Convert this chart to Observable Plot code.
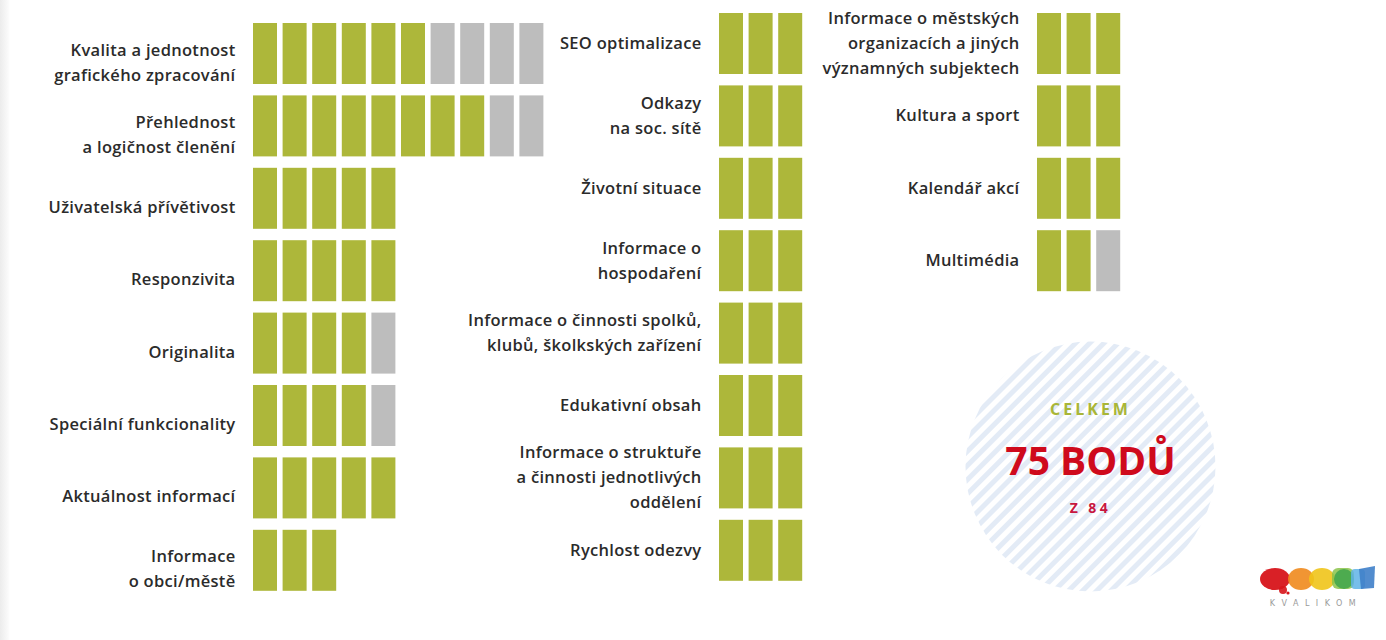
<!DOCTYPE html>
<html lang="cs">
<head>
<meta charset="utf-8">
<script src="https://cdn.jsdelivr.net/npm/d3@7"></script>
<script src="https://cdn.jsdelivr.net/npm/@observablehq/plot@0.6"></script>
<style>
  html, body { margin: 0; padding: 0; background: #ffffff; }
  #wrap { position: relative; width: 1386px; height: 640px; overflow: hidden; background: #fff; }
  #shadow { position: absolute; left: 0; top: 0; width: 10px; height: 640px;
            background: linear-gradient(to right, #ececec, #fafafa 80%, #ffffff); }
  #chart { position: absolute; left: 0; top: 0; }
  #logo { position: absolute; left: 1256px; top: 564px; width: 120px; height: 50px; }
</style>
</head>
<body>
<div id="wrap">
  <div id="chart"></div>
  <div id="shadow"></div>
  <svg id="logo" width="120" height="50" viewBox="0 0 120 50">
    <ellipse cx="19" cy="15" rx="15" ry="11" fill="#d7141a" opacity="0.95"/>
    <circle cx="27" cy="26" r="4" fill="#d7141a" opacity="0.9"/>
    <circle cx="32" cy="29" r="1.6" fill="#d7141a"/>
    <ellipse cx="45" cy="15" rx="13" ry="11" fill="#f08a1d" opacity="0.9"/>
    <ellipse cx="66" cy="15" rx="13" ry="11" fill="#f0c419" opacity="0.9"/>
    <rect x="76" y="4" width="22" height="21" rx="6" fill="#8bc34a" opacity="0.85"/>
    <ellipse cx="88" cy="15" rx="10" ry="10" fill="#3aa24a" opacity="0.8"/>
    <rect x="95" y="5" width="14" height="20" rx="4" fill="#5fb3e6" opacity="0.85"/>
    <path d="M103 5 L119 2 L118 24 L105 25 Z" fill="#3f7fc9" opacity="0.9"/>
    <text x="60" y="42" text-anchor="middle" font-family="'DejaVu Sans', sans-serif" font-size="8" fill="#9a9a9a" letter-spacing="6.5">KVALIKOM</text>
  </svg>
</div>
<script>
// ---------- DATA ----------
const categoriesA = [
  "Kvalita a jednotnost\ngrafického zpracování",
  "Přehlednost\na logičnost členění",
  "Uživatelská přívětivost",
  "Responzivita",
  "Originalita",
  "Speciální funkcionality",
  "Aktuálnost informací",
  "Informace\no obci/městě"
];
const scoresA = [6, 8, 5, 5, 4, 4, 5, 3];
const maxA    = [10, 10, 5, 5, 5, 5, 5, 3];

const categoriesB = [
  "SEO optimalizace",
  "Odkazy\nna soc. sítě",
  "Životní situace",
  "Informace o\nhospodaření",
  "Informace o činnosti spolků,\nklubů, školkských zařízení",
  "Edukativní obsah",
  "Informace o struktuře\na činnosti jednotlivých\noddělení",
  "Rychlost odezvy"
];
const scoresB = [3, 3, 3, 3, 3, 3, 3, 3];
const maxB    = [3, 3, 3, 3, 3, 3, 3, 3];

const categoriesC = [
  "Informace o městských\norganizacích a jiných\nvýznamných subjektech",
  "Kultura a sport",
  "Kalendář akcí",
  "Multimédia"
];
const scoresC = [3, 3, 3, 2];
const maxC    = [3, 3, 3, 3];

const totalLabel = "CELKEM";
const pointsWord = "BODŮ";
const ofWord = "Z";

// ---------- LAYOUT ----------
const W = 1386, H = 640;
const PX = 29.6;           // block pitch (px) horizontally
const PY = 72.4;           // row pitch (px) vertically
const BW = 24 / PX;        // block width in slot units
const BH = 61 / PY;        // block height in row units
const colStart = [253 / PX, 719 / PX, 1037 / PX];
const rowStart = [23 / PY, 13 / PY, 13 / PY];
const labelDy  = [6, -3, -3];
const GREEN = "#adb73a", GRAY = "#bdbdbd";
const FONT = "'Open Sans', 'Noto Sans', sans-serif";

const columns = [
  {cats: categoriesA, scores: scoresA, max: maxA},
  {cats: categoriesB, scores: scoresB, max: maxB},
  {cats: categoriesC, scores: scoresC, max: maxC}
];

const blocks = [];
const labels = [];
columns.forEach((col, c) => {
  col.cats.forEach((name, r) => {
    labels.push({col: c, row: r, name});
    for (let i = 0; i < col.max[r]; i++) {
      blocks.push({col: c, row: r, i, earned: i < col.scores[r]});
    }
  });
});

const total = d3.sum(columns, c => d3.sum(c.scores));
const maxTotal = d3.sum(columns, c => d3.sum(c.max));
const summary = [{x: 1090 / PX, y: 466 / PY}];

const chart = Plot.plot({
  width: W,
  height: H,
  margin: 0,
  x: {domain: [0, W / PX], range: [0, W], axis: null},
  y: {domain: [0, H / PY], range: [0, H], axis: null},
  style: {background: "transparent", fontFamily: FONT},
  marks: [
    Plot.rect(blocks, {
      x1: d => colStart[d.col] + d.i,
      x2: d => colStart[d.col] + d.i + BW,
      y1: d => rowStart[d.col] + d.row,
      y2: d => rowStart[d.col] + d.row + BH,
      fill: d => d.earned ? GREEN : GRAY
    }),
    ...[0, 1, 2].map(c => Plot.text(labels.filter(d => d.col === c), {
      x: d => colStart[d.col],
      y: d => rowStart[d.col] + d.row + BH / 2,
      text: "name",
      dx: -18,
      dy: labelDy[c],
      textAnchor: "end",
      lineAnchor: "middle",
      lineHeight: 1.52,
      fontSize: 16.5,
      fontWeight: 600,
      fill: "#2b2b2b"
    })),
    Plot.dot(summary, {x: "x", y: "y", r: 125, fill: "url(#stripes)", stroke: null}),
    Plot.text(summary, {x: "x", y: "y", text: () => totalLabel, dy: -57, fontSize: 16, fontWeight: 700, fill: "#a9b637"}),
    Plot.text(summary, {x: "x", y: "y", text: () => `${total} ${pointsWord}`, dy: -4, fontSize: 39, fontWeight: 700, fill: "#cf0a1c"}),
    Plot.text(summary, {x: "x", y: "y", text: () => `${ofWord} ${maxTotal}`, dy: 42, fontSize: 14, fontWeight: 700, fill: "#c8173f"})
  ]
});

// stripe pattern for the summary circle
const svg = d3.select(chart);
const pat = svg.insert("defs", ":first-child").append("pattern")
  .attr("id", "stripes")
  .attr("patternUnits", "userSpaceOnUse")
  .attr("width", 10).attr("height", 10)
  .attr("patternTransform", "rotate(45)");
pat.append("rect").attr("width", 10).attr("height", 10).attr("fill", "#ffffff");
pat.append("rect").attr("width", 5).attr("height", 10).attr("fill", "#e3ebf6");

svg.selectAll("text").each(function() {
  const t = this.textContent;
  if (t === totalLabel) d3.select(this).style("letter-spacing", "3px");
  else if (t === `${ofWord} ${maxTotal}`) d3.select(this).style("letter-spacing", "3.5px");
  else if (t !== `${total} ${pointsWord}`) d3.select(this).style("letter-spacing", "0.3px");
});

document.getElementById("chart").appendChild(chart);
</script>
</body>
</html>
